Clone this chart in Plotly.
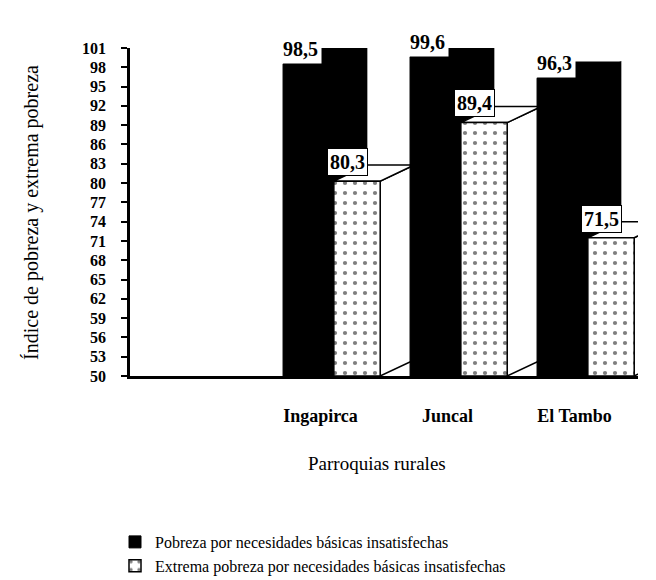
import plotly.graph_objects as go

categories = ["", "Ingapirca", "Juncal", "El Tambo"]
pobreza = [None, 98.5, 99.6, 96.3]
extrema = [None, 80.3, 89.4, 71.5]
pobreza_labels = ["", "98,5", "99,6", "96,3"]
extrema_labels = ["", "80,3", "89,4", "71,5"]
y_ticks = list(range(50, 102, 3))

FONT = "Liberation Serif, Times New Roman, serif"
BASE = 50
DX = 0.268     # depth offset in x (category units)
DY = 2.5       # depth offset in y (data units)
B_OFF, B_W = -0.295, 0.39
E_OFF, E_W = 0.105, 0.365
W, H = 648, 572   # page adds ~8px body margin

fig = go.Figure()
xs = list(range(len(categories)))
shapes = []


def poly(pts):
    return "M " + " L ".join("%f,%f" % p for p in pts) + " Z"


def depth_faces(x0, x1, v, fill):
    side = [(x1, BASE), (x1 + DX, BASE + DY), (x1 + DX, v + DY), (x1, v)]
    top = [(x0, v), (x1, v), (x1 + DX, v + DY), (x0 + DX, v + DY)]
    for pts in (side, top):
        shapes.append(dict(type="path", path=poly(pts), xref="x", yref="y",
                           fillcolor=fill, layer="below",
                           line=dict(color="black", width=1.5)))


for i, v in enumerate(pobreza):
    if v is not None:
        depth_faces(i + B_OFF, i + B_OFF + B_W, v, "black")
for i, v in enumerate(extrema):
    if v is not None:
        depth_faces(i + E_OFF, i + E_OFF + E_W, v, "white")

fig.add_trace(go.Bar(
    x=xs, y=[None if v is None else v - BASE for v in pobreza], base=BASE,
    width=B_W, offset=B_OFF, marker=dict(color="black", line=dict(color="black", width=1)),
    name="Pobreza por necesidades básicas insatisfechas", legendgroup="a"))

fig.add_trace(go.Bar(
    x=xs, y=[None if v is None else v - BASE for v in extrema], base=BASE,
    width=E_W, offset=E_OFF,
    marker=dict(color="white", line=dict(color="black", width=1.5),
                pattern=dict(shape=".", fgcolor="black", bgcolor="white", size=10, solidity=0.14)),
    name="Extrema pobreza por necesidades básicas insatisfechas", legendgroup="b"))

annotations = []
for i in range(len(categories)):
    if pobreza[i] is not None:
        annotations.append(dict(x=i + B_OFF - 0.03, y=pobreza[i], xref="x", yref="y",
                                text="<b>%s</b>" % pobreza_labels[i], showarrow=False,
                                xanchor="left", yanchor="bottom", bgcolor="white",
                                font=dict(family=FONT, size=20, color="black"), borderpad=3))
    if extrema[i] is not None:
        annotations.append(dict(x=i + E_OFF - 0.05, y=extrema[i] + 0.8, xref="x", yref="y",
                                text="<b>%s</b>" % extrema_labels[i], showarrow=False,
                                xanchor="left", yanchor="bottom", bgcolor="white",
                                bordercolor="black", borderwidth=1,
                                font=dict(family=FONT, size=20, color="black"), borderpad=2))

annotations.append(dict(text="Parroquias rurales", xref="paper", yref="paper",
                        x=0.486, y=-0.268, showarrow=False, xanchor="center", yanchor="middle",
                        font=dict(family=FONT, size=19, color="black")))
annotations.append(dict(text="Índice de pobreza y extrema pobreza", xref="paper", yref="paper",
                        x=-0.195, y=0.5, showarrow=False, textangle=-90,
                        xanchor="center", yanchor="middle",
                        font=dict(family=FONT, size=20, color="black")))

fig.update_layout(
    width=W, height=H,
    margin=dict(l=122, r=18, t=40, b=204, autoexpand=False),
    plot_bgcolor="white", paper_bgcolor="white",
    barmode="overlay", showlegend=True,
    font=dict(family=FONT, color="black"),
    annotations=annotations, shapes=shapes,
    legend=dict(xref="container", yref="container", x=107 / W, y=1 - 517 / H,
                xanchor="left", yanchor="top",
                orientation="v", traceorder="grouped", tracegroupgap=0,
                font=dict(family=FONT, size=16, color="black"),
                itemwidth=30, bgcolor="rgba(0,0,0,0)"),
)
fig.update_xaxes(range=[-0.5, 3.5], tickvals=[1, 2, 3], ticktext=categories[1:],
                 showline=True, linecolor="black", linewidth=2.5, ticks="",
                 showgrid=False, zeroline=False, ticklabelstandoff=22,
                 tickfont=dict(family=FONT, size=18, color="black", weight="bold"))
fig.update_yaxes(range=[BASE, 101], tickvals=y_ticks, ticks="outside", ticklen=6,
                 tickwidth=1.5, tickcolor="black", ticklabelstandoff=12,
                 showline=True, linecolor="black", linewidth=2.5, showgrid=False,
                 zeroline=False,
                 tickfont=dict(family=FONT, size=16, color="black", weight="bold"))

fig.write_html("out.html")
